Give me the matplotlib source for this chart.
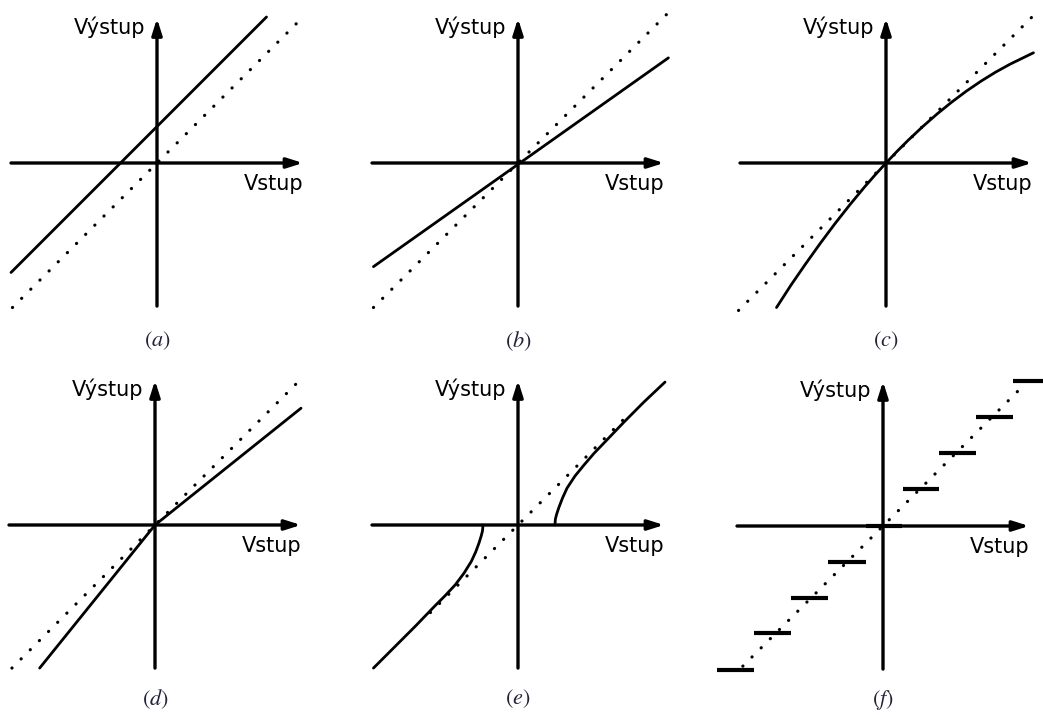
import matplotlib
matplotlib.use("Agg")
import matplotlib.pyplot as plt

W, H = 1043, 715
DPI = 100
SCALE = 146          # pixels per unit
HALF = 1.3           # half-size of every panel box, in units

plt.rcParams['mathtext.fontset'] = 'stix'

# axis crossing of each panel, pixels from top-left
origins = {
    'a': (157, 163), 'b': (518, 163), 'c': (886, 163),
    'd': (155, 525), 'e': (518, 525), 'f': (883, 526),
}

# caption height under the axis crossing, in units
caption_y = {'a': -1.22, 'b': -1.22, 'c': -1.22, 'd': -1.19, 'e': -1.19, 'f': -1.19}

# dotted identity line ends (x0, x1)
ident = {
    'a': (-0.99, 1.0), 'b': (-0.99, 1.02), 'c': (-1.01, 1.01),
    'd': (-0.98, 0.99), 'e': (-0.6, 0.72), 'f': (-0.96, 0.97),
}

# (a) offset
a_x = [-1.0, 0.75]
a_y = [-0.75, 1.0]

# (b) lower gain
b_x = [-0.99, 1.03]
b_y = [-0.71, 0.72]

# (c) compressing curve
c_x = [-0.75, -0.65, -0.55, -0.45, -0.35, -0.25, -0.15, -0.075, 0.0,
       0.075, 0.15, 0.25, 0.35, 0.45, 0.55, 0.65, 0.75, 0.85, 0.93, 1.01]
c_y = [-0.99, -0.835, -0.69, -0.55, -0.416, -0.289, -0.168, -0.082, 0.0,
       0.079, 0.154, 0.248, 0.336, 0.417, 0.492, 0.56, 0.622, 0.677, 0.716, 0.755]

# (d) two slopes
d_x = [-0.79, 0.0, 1.0]
d_y = [-0.98, 0.0, 0.8]

# (e) dead zone
e_right_x = [0.253, 0.256, 0.265, 0.281, 0.305, 0.336, 0.39, 0.452, 0.52, 0.589, 0.726, 0.86, 1.007]
e_right_y = [0.0, 0.04, 0.075, 0.123, 0.185, 0.253, 0.335, 0.411, 0.49, 0.562, 0.705, 0.84, 0.979]
e_left_x = [-0.24, -0.243, -0.252, -0.267, -0.29, -0.32, -0.37, -0.43, -0.5, -0.57, -0.7, -0.84, -0.99]
e_left_y = [0.0, -0.04, -0.075, -0.123, -0.185, -0.25, -0.33, -0.41, -0.485, -0.555, -0.69, -0.83, -0.98]

# (f) quantizer steps
f_level = [-0.986, -0.733, -0.493, -0.247, 0.0, 0.253, 0.5, 0.747, 0.993]
f_start = [-1.137, -0.884, -0.630, -0.377, -0.116, 0.137, 0.384, 0.637, 0.890]
f_end = [-0.884, -0.630, -0.377, -0.116, 0.130, 0.384, 0.637, 0.890, 1.14]

fig = plt.figure(figsize=(W / DPI, H / DPI), dpi=DPI)
fig.patch.set_facecolor('white')

axes = {}
for key, (ox, oy) in origins.items():
    r = HALF * SCALE
    ax = fig.add_axes([(ox - r) / W, (H - oy - r) / H, 2 * r / W, 2 * r / H])
    ax.set_xlim(-HALF, HALF)
    ax.set_ylim(-HALF, HALF)
    ax.axis('off')
    ax.patch.set_alpha(0)

    # identity reference
    x0, x1 = ident[key]
    ax.plot([x0, x1], [x0, x1], color='black', lw=2.3,
            linestyle=(0, (0.05, 4.0)), dash_capstyle='round', zorder=1)

    # axes with arrows
    ax.annotate('', xy=(1.0, 0), xytext=(-1.0, 0),
                arrowprops=dict(arrowstyle='-|>,head_length=0.95,head_width=0.3',
                                lw=2.4, color='black', shrinkA=0, shrinkB=0), zorder=3)
    ax.annotate('', xy=(0, 0.99), xytext=(0, -0.98),
                arrowprops=dict(arrowstyle='-|>,head_length=0.95,head_width=0.3',
                                lw=2.4, color='black', shrinkA=0, shrinkB=0), zorder=3)

    ax.text(-0.08, 0.93, 'Výstup', ha='right', va='center', fontsize=15,
            family='DejaVu Sans', color='black')
    ax.text(1.0, -0.145, 'Vstup', ha='right', va='center', fontsize=15,
            family='DejaVu Sans', color='black')
    ax.text(0, caption_y[key], r'$(%s)$' % key, ha='center', va='center', fontsize=16,
            color='#22223a')
    axes[key] = ax

lw = 2.0
axes['a'].plot(a_x, a_y, color='black', lw=lw, solid_capstyle='round', zorder=2)
axes['b'].plot(b_x, b_y, color='black', lw=lw, solid_capstyle='round', zorder=2)
axes['c'].plot(c_x, c_y, color='black', lw=lw, solid_capstyle='round', zorder=2)
axes['d'].plot(d_x, d_y, color='black', lw=lw, solid_capstyle='round', zorder=2)
axes['e'].plot(e_right_x, e_right_y, color='black', lw=lw, solid_capstyle='round', zorder=2)
axes['e'].plot(e_left_x, e_left_y, color='black', lw=lw, solid_capstyle='round', zorder=2)
axes['f'].hlines(f_level, f_start, f_end, color='black', lw=3.0, zorder=2)

fig.savefig('out.png', dpi=DPI)
